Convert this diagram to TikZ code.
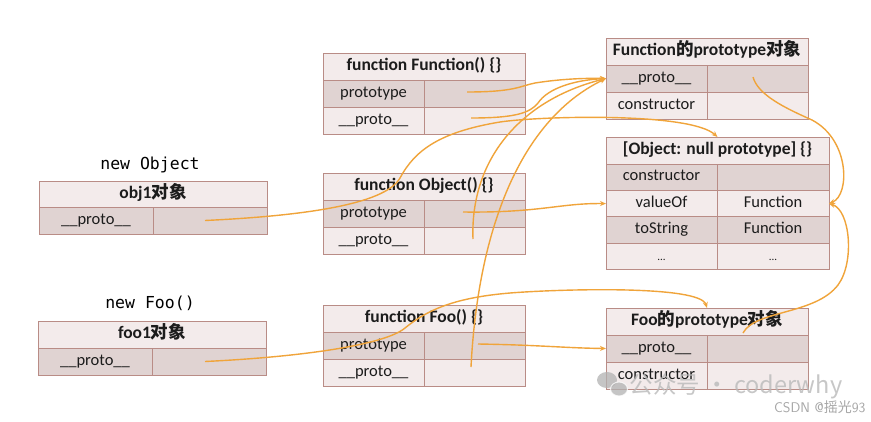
\documentclass[tikz,border=0pt]{standalone}
\usepackage{fontspec}
\setmainfont{Carlito}
\newfontfamily\cjk{Noto Sans CJK SC}
\newfontfamily\monof{DejaVu Sans Mono}
\usetikzlibrary{arrows.meta}
\definecolor{bd}{HTML}{B98C86}
\definecolor{hf}{HTML}{F3EBEB}
\definecolor{dk}{HTML}{E0D3D2}
\definecolor{lt}{HTML}{F3EBEB}
\definecolor{ar}{HTML}{F0A43A}
\definecolor{tx}{HTML}{1C1C1C}
\tikzset{
  x=1pt,y=-1pt,
  hdr/.style={anchor=north west,draw=bd,fill=hf,inner sep=0pt,outer sep=0pt,line width=0.8pt,
    text=tx,font=\fontsize{17.5}{19}\selectfont\bfseries,text height=11.5pt,text depth=3.5pt},
  cell/.style={anchor=north west,draw=bd,inner sep=0pt,outer sep=0pt,line width=0.8pt,
    text=tx,font=\fontsize{16.5}{18}\selectfont,text height=11pt,text depth=3.5pt},
  arr/.style={draw=ar,line width=1.4pt,-{Stealth[length=6pt,width=5pt]}},
  lbl/.style={font=\monof\fontsize{16.5}{18}\selectfont,text=black},
}
\newcommand\hc[6]{\node[hdr,minimum width=#4pt,minimum height=#5pt] (#1) at (#2,#3) {#6};}
\newcommand\rc[9]{%
  \node[cell,fill=#7,minimum width=#4pt,minimum height=#6pt] (#1l) at (#2,#3) {#8};
  \node[cell,fill=#7,minimum width=#5pt,minimum height=#6pt] (#1r) at (#1l.north east) {#9};}
\begin{document}
\begin{tikzpicture}
\useasboundingbox (0,0) rectangle (871,421);
\fill[white] (0,0) rectangle (871,421);

% labels
\node[lbl] (lobj) at (150,165) {new Object};
\node[lbl] (lfoo) at (150,303) {new Foo()};

% obj1
\hc{O1h}{39}{181}{228}{26}{obj1{\cjk 对象}}
\rc{O1p}{39}{207}{114}{114}{27}{dk}{\_\_proto\_\_}{}
% foo1
\hc{F1h}{38}{321}{228}{27}{foo1{\cjk 对象}}
\rc{F1p}{38}{348}{114}{114}{27}{dk}{\_\_proto\_\_}{}

% function Function
\hc{FFh}{323}{53}{202}{27}{function Function() \{\}}
\rc{FFp}{323}{80}{101}{101}{27}{dk}{prototype}{}
\rc{FFq}{323}{107}{101}{101}{27}{lt}{\_\_proto\_\_}{}
% function Object
\hc{FOh}{323}{173}{202}{27}{function Object() \{\}}
\rc{FOp}{323}{200}{101}{101}{27}{dk}{prototype}{}
\rc{FOq}{323}{227}{101}{101}{27}{lt}{\_\_proto\_\_}{}
% function Foo
\hc{FZh}{323}{305}{202}{27}{function Foo() \{\}}
\rc{FZp}{323}{332}{101}{101}{27}{dk}{prototype}{}
\rc{FZq}{323}{359}{101}{101}{27}{lt}{\_\_proto\_\_}{}

% Function prototype object
\hc{FPh}{606}{38}{202}{27}{Function{\cjk 的}prototype{\cjk 对象}}
\rc{FPp}{606}{65}{101}{101}{27}{dk}{\_\_proto\_\_}{}
\rc{FPc}{606}{92}{101}{101}{27}{lt}{constructor}{}
% Object prototype
\hc{OPh}{606}{137}{223}{27}{[Object: null prototype] \{\}}
\rc{OPc}{606}{164}{111}{112}{26.4}{dk}{constructor}{}
\rc{OPv}{606}{190.4}{111}{112}{26.4}{lt}{valueOf}{Function}
\rc{OPt}{606}{216.8}{111}{112}{26.4}{dk}{toString}{Function}
\rc{OPd}{606}{243.2}{111}{112}{26.4}{lt}{\fontsize{11}{12}\selectfont ...}{\fontsize{11}{12}\selectfont ...}
% Foo prototype
\hc{ZPh}{606}{308}{202}{27}{Foo{\cjk 的}prototype{\cjk 对象}}
\rc{ZPp}{606}{335}{101}{101}{27}{dk}{\_\_proto\_\_}{}
\rc{ZPc}{606}{362}{101}{101}{27}{lt}{constructor}{}

% connectors
\draw[arr] ([xshift=-7.5pt,yshift=1.5pt]FFpr.center) .. controls (515,92) and (520,86) .. (535,83)
   .. controls (560,79) and (585,78) .. (FPpl.west);
\draw[arr] ([xshift=-3.5pt,yshift=2.5pt]FFqr.center) .. controls (515,118) and (530,113) .. (538,103)
   .. controls (548,88) and (575,80) .. (FPpl.west);
\draw[arr] ([xshift=-1.5pt,yshift=1.5pt]FOqr.center) .. controls (470,160) and (520,100) .. (FPpl.west);
\draw[arr] ([xshift=-3.5pt,yshift=5.5pt]FZqr.center) .. controls (478,230) and (520,120) .. (FPpl.west);
\draw[arr] ([xshift=-11.5pt,yshift=1.5pt]FOpr.center) .. controls (540,213) and (560,203) .. (OPvl.west);
\draw[arr] ([xshift=3.5pt,yshift=1.5pt]FZpr.center) .. controls (540,345) and (565,348) .. (ZPpl.west);
\draw[arr] ([xshift=-5pt]O1pr.center) .. controls (300,216) and (385,205) .. (400,178)
   .. controls (415,150) and (440,132) .. (500,122)
   .. controls (540,116) and (690,112) .. (OPh.north);
\draw[arr] ([xshift=-4pt]F1pr.center) .. controls (300,357) and (385,345) .. (405,328)
   .. controls (425,312) and (450,298) .. (510,293)
   .. controls (560,289) and (700,285) .. (ZPh.north);
\draw[arr] ([xshift=-4.5pt,yshift=1.5pt]FPpr.center) .. controls (758,95) and (785,108) .. (812,120)
   .. controls (850,140) and (850,195) .. (OPvr.east);
\draw[arr] ([xshift=-14.5pt,yshift=15.5pt]ZPpr.center) .. controls (755,310) and (815,315) .. (838,285)
   .. controls (855,262) and (850,210) .. (OPvr.east);

% watermark
\begin{scope}[opacity=0.75]
\fill[gray!60] (607,380) ellipse (10 and 8);
\fill[gray!60,draw=white,line width=1pt] (619,389) ellipse (8.5 and 7);
\end{scope}
\node[anchor=west,text=gray!55,opacity=0.8,font=\cjk\fontsize{23.5}{25}\selectfont] (wm1) at (626,386) {公众号 · coderwhy};
\node[anchor=east,text=gray!70,font=\fontsize{14}{16}\selectfont\sffamily] (wm2) at (869,407) {CSDN @{\cjk 摇光}93};
\end{tikzpicture}
\end{document}
